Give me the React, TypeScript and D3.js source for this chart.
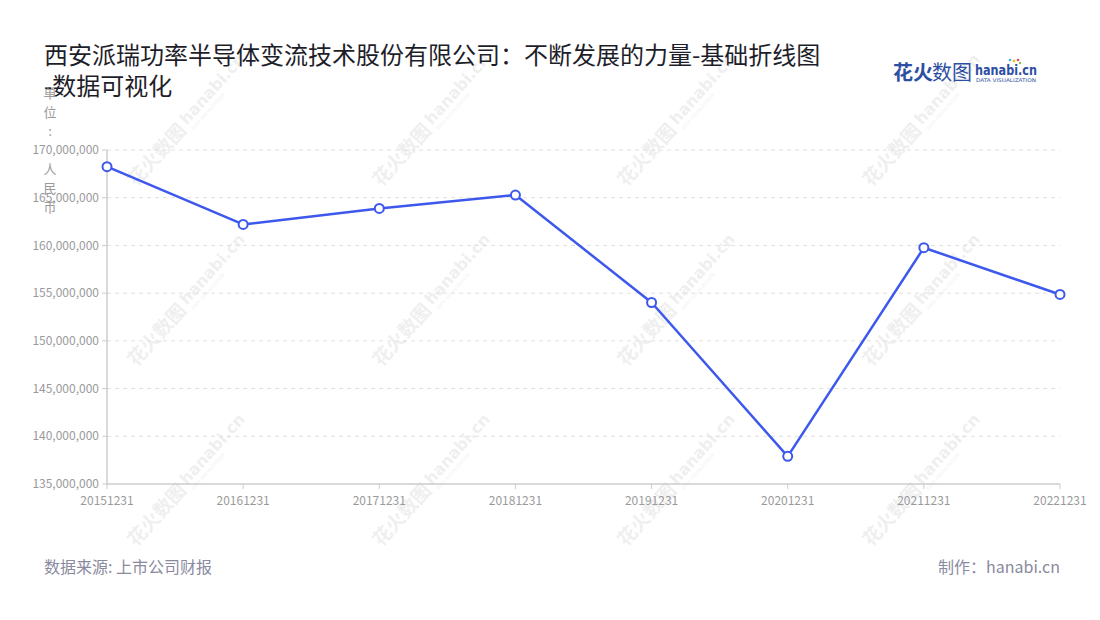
import React from "react";
import * as d3 from "d3";

const categories = ["20151231", "20161231", "20171231", "20181231", "20191231", "20201231", "20211231", "20221231"];
const values = [168250000, 162200000, 163880000, 165280000, 154020000, 137900000, 159760000, 154860000];
const yTicks = [135000000, 140000000, 145000000, 150000000, 155000000, 160000000, 165000000, 170000000];
const titleLine1 = "西安派瑞功率半导体变流技术股份有限公司：不断发展的力量-基础折线图";
const titleLine2 = "-数据可视化";
const yAxisName = "单位: 人民币";
const sourceText = "数据来源: 上市公司财报";
const makerText = "制作：hanabi.cn";

const W = 1100;
const H = 620;
const FONT = "'Noto Sans CJK SC', 'Noto Sans', sans-serif";
const LINE = "#3d58ec";

const wmCols = [180, 425, 670, 915];
const wmRows = [130, 310, 490];

function Watermark({ x, y }: { x: number; y: number }) {
  return (
    <g transform={`translate(${x},${y}) rotate(-48)`} opacity={0.075} fill="#333">
      <text x={-72} y={6} fontSize={19} fontWeight={700} fontFamily={FONT}>花火数图</text>
      <text x={8} y={2} fontSize={16} fontWeight={700} fontFamily="'DejaVu Sans', sans-serif">hanabi.cn</text>
      <text x={9} y={10} fontSize={4.5} fontFamily="'DejaVu Sans', sans-serif">DATA VISUALIZATION</text>
    </g>
  );
}

export default function App() {
  const x = d3.scalePoint<string>().domain(categories).range([107, 1060]);
  const y = d3.scaleLinear().domain([135000000, 170000000]).range([484, 150]);
  const fmt = d3.format(",");
  const line = d3
    .line<number>()
    .x((_, i) => x(categories[i]) as number)
    .y((d) => y(d));

  const nameChars = Array.from(yAxisName);
  const nameStep = 19;
  const nameCenter = 150;
  const nameStart = nameCenter - ((nameChars.length - 1) / 2) * nameStep;

  return (
    <svg width={W} height={H} style={{ display: "block", position: "absolute", left: 0, top: 0 }}>
      <rect width={W} height={H} fill="#fff" />
      {wmRows.map((ry) => wmCols.map((cx) => <Watermark key={`${cx}-${ry}`} x={cx} y={ry} />))}

      <text x={44} y={64} fontSize={24} fill="#1e1e2a" fontFamily={FONT}>{titleLine1}</text>
      <text x={44} y={95} fontSize={24} fill="#1e1e2a" fontFamily={FONT}>{titleLine2}</text>

      <g>
        <text x={893} y={80} fontSize={20} fontWeight={700} fill="#2d4fa3" fontFamily={FONT}>花火</text>
        <text x={932} y={80} fontSize={20} fill="#2d4fa3" fontFamily={FONT}>数图</text>
        <text x={975} y={75} fontSize={14} fontWeight={700} fill="#2d4fa3" fontFamily="'DejaVu Sans', sans-serif" textLength={62} lengthAdjust="spacingAndGlyphs">hanabi.cn</text>
        <text x={976} y={82} fontSize={5} fill="#2d4fa3" fontFamily="'DejaVu Sans', sans-serif" textLength={60} lengthAdjust="spacingAndGlyphs">DATA VISUALIZATION</text>
        <circle cx={1014} cy={61} r={1.3} fill="#f5b800" />
        <circle cx={1018} cy={60} r={1.3} fill="#e8475f" />
        <circle cx={1010} cy={60} r={1.3} fill="#3fb0e8" />
        <circle cx={1020} cy={63} r={1.2} fill="#8bc34a" />
      </g>

      {yTicks.map((t) => (
        <g key={t}>
          {t !== 135000000 && (
            <line x1={107} x2={1060} y1={y(t)} y2={y(t)} stroke="#e0e0e0" strokeDasharray="4 4" />
          )}
          <line x1={102} x2={107} y1={y(t)} y2={y(t)} stroke="#ccc" />
          <text x={99} y={y(t)} dy="0.35em" textAnchor="end" fontSize={12} fill="#9a9a9a" fontFamily={FONT}>
            {fmt(t)}
          </text>
        </g>
      ))}
      <line x1={107} x2={107} y1={150} y2={484} stroke="#ccc" strokeWidth={1.5} />
      <line x1={107} x2={1060} y1={484} y2={484} stroke="#ccc" strokeWidth={1.5} />
      {categories.map((c) => (
        <g key={c}>
          <line x1={x(c)} x2={x(c)} y1={484} y2={489} stroke="#ccc" />
          <text x={x(c)} y={505} textAnchor="middle" fontSize={12} fill="#9a9a9a" fontFamily={FONT}>{c}</text>
        </g>
      ))}

      {nameChars.map((ch, i) => (
        <text key={i} x={50} y={nameStart + i * nameStep} dy="0.35em" textAnchor="middle" fontSize={13} fill="#9a9a9a" fontFamily={FONT}>
          {ch}
        </text>
      ))}

      <path d={line(values) || ""} fill="none" stroke={LINE} strokeWidth={2.5} strokeLinejoin="round" />
      {values.map((v, i) => (
        <circle key={i} cx={x(categories[i]) as number} cy={y(v)} r={4.5} fill="#fff" stroke={LINE} strokeWidth={2} />
      ))}

      <text x={44} y={573} fontSize={16} fill="#8a8a9e" fontFamily={FONT}>{sourceText}</text>
      <text x={1060} y={573} textAnchor="end" fontSize={16} fill="#8a8a9e" fontFamily={FONT}>{makerText}</text>
    </svg>
  );
}
